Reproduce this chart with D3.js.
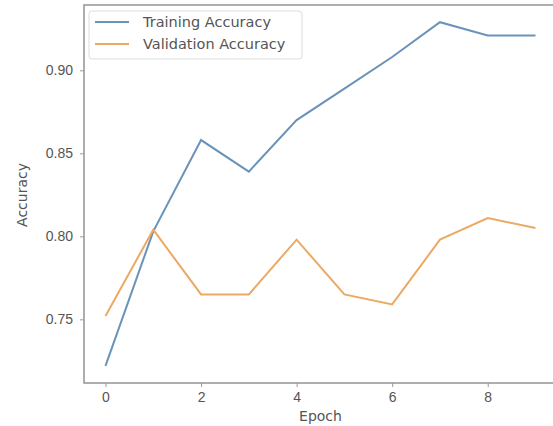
<!DOCTYPE html>
<html lang="en">
<head>
    <meta charset="UTF-8">
    <title>Training vs Validation Accuracy</title>
    <style>
        body { margin: 0; padding: 0; background: #fff; }
        svg { font-family: "DejaVu Sans", sans-serif; }
        .axis text { font-size: 14px; fill: #555; }
        .axis path, .axis line { stroke: #9a9a9a; }
    </style>
</head>
<body>
    <script src="https://d3js.org/d3.v7.min.js"></script>
    <script>
        // valeurs
        const epochs = [0, 1, 2, 3, 4, 5, 6, 7, 8, 9];
        const trainAcc = [0.722, 0.803, 0.858, 0.839, 0.870, 0.889, 0.908, 0.929, 0.921, 0.921];
        const valAcc = [0.752, 0.804, 0.765, 0.765, 0.798, 0.765, 0.759, 0.798, 0.811, 0.805];
        const xTicks = [0, 2, 4, 6, 8];
        const yTicks = [0.75, 0.80, 0.85, 0.90];

        const W = 553, H = 426;
        const plot = { left: 84, top: 5, right: 557, bottom: 383 };

        const svg = d3.select("body").append("svg")
            .attr("width", W)
            .attr("height", H);

        // marges de 5% comme matplotlib
        const x = d3.scaleLinear().domain([-0.45, 9.45]).range([plot.left, plot.right]);
        const allVals = trainAcc.concat(valAcc);
        const yMin = d3.min(allVals), yMax = d3.max(allVals);
        const pad = (yMax - yMin) * 0.05;
        const y = d3.scaleLinear().domain([yMin - pad, yMax + pad]).range([plot.bottom, plot.top]);

        const line = d3.line()
            .x((d, i) => x(epochs[i]))
            .y(d => y(d));

        svg.append("path")
            .datum(trainAcc)
            .attr("fill", "none")
            .attr("stroke", "#6a93b9")
            .attr("stroke-width", 2)
            .attr("d", line);

        svg.append("path")
            .datum(valAcc)
            .attr("fill", "none")
            .attr("stroke", "#eba964")
            .attr("stroke-width", 2)
            .attr("d", line);

        // cadre
        svg.append("rect")
            .attr("x", plot.left)
            .attr("y", plot.top)
            .attr("width", plot.right - plot.left)
            .attr("height", plot.bottom - plot.top)
            .attr("fill", "none")
            .attr("stroke", "#9a9a9a")
            .attr("stroke-width", 1.6);

        // axes
        const xAxis = svg.append("g")
            .attr("class", "axis")
            .attr("transform", "translate(0," + plot.bottom + ")")
            .call(d3.axisBottom(x).tickValues(xTicks).tickFormat(d3.format("d")).tickSize(4).tickPadding(5));
        xAxis.select(".domain").remove();

        const yAxis = svg.append("g")
            .attr("class", "axis")
            .attr("transform", "translate(" + plot.left + ",0)")
            .call(d3.axisLeft(y).tickValues(yTicks).tickFormat(d3.format(".2f")).tickSize(4).tickPadding(7));
        yAxis.select(".domain").remove();

        // titres des axes
        svg.append("text")
            .attr("x", (plot.left + plot.right) / 2)
            .attr("y", 421)
            .attr("text-anchor", "middle")
            .attr("font-size", 14)
            .attr("fill", "#555")
            .text("Epoch");

        svg.append("text")
            .attr("transform", "translate(27,195) rotate(-90)")
            .attr("text-anchor", "middle")
            .attr("font-size", 14)
            .attr("fill", "#555")
            .text("Accuracy");

        // légende
        const legend = svg.append("g").attr("transform", "translate(89,11)");
        legend.append("rect")
            .attr("width", 213)
            .attr("height", 48)
            .attr("rx", 3)
            .attr("fill", "#fff")
            .attr("fill-opacity", 0.8)
            .attr("stroke", "#ddd");

        const items = [
            { label: "Training Accuracy", color: "#6a93b9" },
            { label: "Validation Accuracy", color: "#eba964" }
        ];
        items.forEach((it, i) => {
            const gy = 11 + i * 22;
            legend.append("line")
                .attr("x1", 6).attr("x2", 40)
                .attr("y1", gy).attr("y2", gy)
                .attr("stroke", it.color)
                .attr("stroke-width", 2);
            legend.append("text")
                .attr("x", 54)
                .attr("y", gy + 5)
                .attr("font-size", 14.5)
                .attr("fill", "#555")
                .text(it.label);
        });
    </script>
</body>
</html>
